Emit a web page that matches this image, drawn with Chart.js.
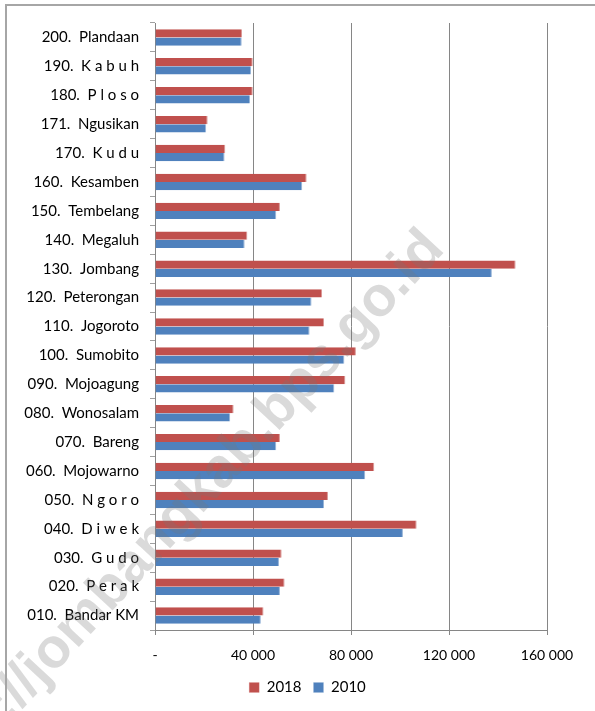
<!DOCTYPE html>
<html>
<head>
<meta charset="utf-8">
<script src="https://cdn.jsdelivr.net/npm/chart.js@4.4.0/dist/chart.umd.min.js"></script>
<style>
  html, body { margin: 0; padding: 0; background: #fff; }
  #wrap { position: relative; width: 595px; height: 711px; }
  #frame { position: absolute; left: 5px; top: 4px; right: -2px; bottom: -2px;
           border-top: 2px solid #a6a6a6; border-left: 2px solid #a6a6a6; pointer-events: none; }
  canvas { position: absolute; left: 0; top: 0; }
</style>
</head>
<body>
<div id="wrap">
  <canvas id="chart" width="595" height="711"></canvas>
  <div id="frame"></div>
</div>
<script>
// kecamatan, top to bottom as in the picture
const districts = [
  '200.  Plandaan', '190.  K a b u h', '180.  P l o s o', '171.  Ngusikan',
  '170.  K u d u', '160.  Kesamben', '150.  Tembelang', '140.  Megaluh',
  '130.  Jombang', '120.  Peterongan', '110.  Jogoroto', '100.  Sumobito',
  '090.  Mojoagung', '080.  Wonosalam', '070.  Bareng', '060.  Mojowarno',
  '050.  N g o r o', '040.  D i w e k', '030.  G u d o', '020.  P e r a k',
  '010.  Bandar KM'
];

const pop2018 = [
  35500, 39900, 39900, 21500, 28700, 61900, 51000, 37700,
  147200, 68200, 69000, 82000, 77700, 32100, 51000, 89500,
  70600, 106800, 51700, 52900, 44300
];

const pop2010 = [
  35400, 39200, 38800, 20900, 28400, 60100, 49500, 36600,
  137500, 63900, 63100, 77300, 73200, 30700, 49500, 85800,
  69000, 101200, 50600, 51000, 43200
];

const xTicks = [0, 40000, 80000, 120000, 160000];

const fmt = v => v === 0 ? '-' : String(v).replace(/\B(?=(\d{3})+(?!\d))/g, ' ');

// faint site watermark across the plot
const watermark = {
  id: 'watermark',
  afterDraw(chart) {
    const ctx = chart.ctx;
    ctx.save();
    ctx.translate(216, 476);
    ctx.rotate(-47.2 * Math.PI / 180);
    ctx.font = 'bold 56px "Liberation Sans", Arial, sans-serif';
    ctx.fillStyle = 'rgba(120,120,120,0.27)';
    ctx.textAlign = 'center';
    ctx.textBaseline = 'middle';
    ctx.fillText('://jombangkab.bps.go.id', 0, 0);
    ctx.restore();
  }
};

// legend in the picture sits a little right of the canvas centre
const shiftLegend = {
  id: 'shiftLegend',
  afterLayout(chart) {
    chart.legend.left += 34;
    chart.legend.right += 34;
  }
};

Chart.defaults.font.family = 'Lato, "Open Sans", sans-serif';
Chart.defaults.color = '#000';

new Chart(document.getElementById('chart'), {
  type: 'bar',
  data: {
    labels: districts,
    datasets: [
      { label: '2018', data: pop2018, backgroundColor: '#C0504D', borderColor: '#D99694', borderWidth: { top: 0, bottom: 0, right: 1, left: 0 } },
      { label: '2010', data: pop2010, backgroundColor: '#4F81BD', borderColor: '#95B3D7', borderWidth: { top: 0, bottom: 0, right: 1, left: 0 } }
    ]
  },
  options: {
    indexAxis: 'y',
    responsive: false,
    animation: false,
    datasets: { bar: { categoryPercentage: 0.57, barPercentage: 1.0 } },
    layout: { padding: { top: 23, right: 48, left: 0, bottom: 6 } },
    scales: {
      x: {
        min: 0,
        max: 160000,
        afterBuildTicks: s => { s.ticks = xTicks.map(v => ({ value: v })); },
        afterFit: s => { s.height = 38; },
        ticks: { callback: v => fmt(v), font: { size: 14 }, padding: 12, maxRotation: 0 },
        grid: { color: '#868686', tickLength: 5, lineWidth: 1 },
        border: { color: '#868686' }
      },
      y: {
        afterFit: s => { s.width = 155; },
        ticks: { font: { size: 15 }, padding: 11, autoSkip: false },
        grid: { drawOnChartArea: false, color: '#a0a0a0', tickLength: 5 },
        border: { color: '#868686' }
      }
    },
    plugins: {
      legend: {
        position: 'bottom',
        labels: { boxWidth: 10, boxHeight: 10, font: { size: 15 }, padding: 12 }
      },
      tooltip: { enabled: false }
    }
  },
  plugins: [watermark, shiftLegend]
});
</script>
</body>
</html>
